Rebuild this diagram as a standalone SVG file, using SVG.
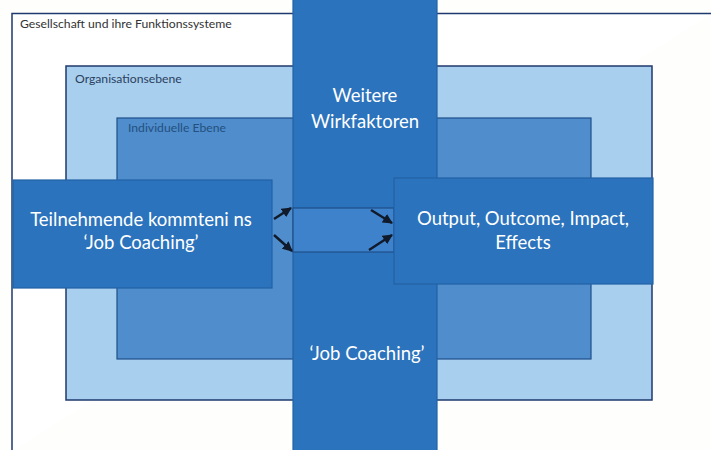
<svg xmlns="http://www.w3.org/2000/svg" width="711" height="450" viewBox="0 0 711 450">
<defs>
<style>
.lbl{font-family:Lato,"Open Sans","Liberation Sans",sans-serif;font-size:12.2px;}
.big{font-family:Lato,"Open Sans","Liberation Sans",sans-serif;font-size:18.5px;fill:#ffffff;text-anchor:middle;}
.blue{fill:#2b73bc;stroke:#2262a6;stroke-width:1.2;}
.arr{stroke:#111a2a;stroke-width:2.4;fill:none;marker-end:url(#ah);}
</style>
<marker id="ah" viewBox="0 0 10 10" refX="9" refY="5" markerWidth="4.2" markerHeight="4.2" orient="auto">
<path d="M0,0 L10,5 L0,10 z" fill="#111a2a"/>
</marker>
</defs>
<rect x="0" y="0" width="711" height="450" fill="#fefefc"/>
<g id="gesellschaft">
<path d="M12,451 L12,13.5 L712,13.5" fill="#ffffff" stroke="#1f3a6e" stroke-width="1.5"/>
<text class="lbl" x="20" y="28" fill="#333333">Gesellschaft und ihre Funktionssysteme</text>
</g>
<g id="organisation">
<rect x="66" y="66" width="586" height="334" fill="#a9cfee" stroke="#1f3a6e" stroke-width="1.5"/>
<text class="lbl" x="75" y="83" fill="#2a3f5e">Organisationsebene</text>
</g>
<g id="individuell">
<rect x="117" y="118" width="474" height="241" fill="#4f8dcc" stroke="#1f4f8a" stroke-width="1.2"/>
<text class="lbl" x="128" y="132" fill="#24507f">Individuelle Ebene</text>
</g>
<g id="wirkfaktoren">
<rect x="293" y="-2" width="144" height="454" class="blue"/>
<text class="big" x="365" y="102">Weitere</text>
<text class="big" x="365" y="128">Wirkfaktoren</text>
<text class="big" x="367" y="360">‘Job Coaching’</text>
</g>
<g id="strip">
<rect x="293" y="208" width="101" height="44" fill="#3d82cb" stroke="#1f4f8a" stroke-width="1.2"/>
</g>
<g id="teilnehmende">
<rect x="13" y="180" width="259" height="108" class="blue"/>
<text class="big" x="141" y="226">Teilnehmende kommteni ns</text>
<text class="big" x="141" y="249">‘Job Coaching’</text>
</g>
<g id="output">
<rect x="394" y="178" width="259" height="106" class="blue"/>
<text class="big" x="523" y="225">Output, Outcome, Impact,</text>
<text class="big" x="523" y="249">Effects</text>
</g>
<g id="connectors">
<line class="arr" x1="274" y1="219" x2="291" y2="208"/>
<line class="arr" x1="274" y1="235" x2="292" y2="251"/>
<line class="arr" x1="371" y1="210" x2="392" y2="223"/>
<line class="arr" x1="369" y1="250" x2="392" y2="235"/>
</g>
</svg>
